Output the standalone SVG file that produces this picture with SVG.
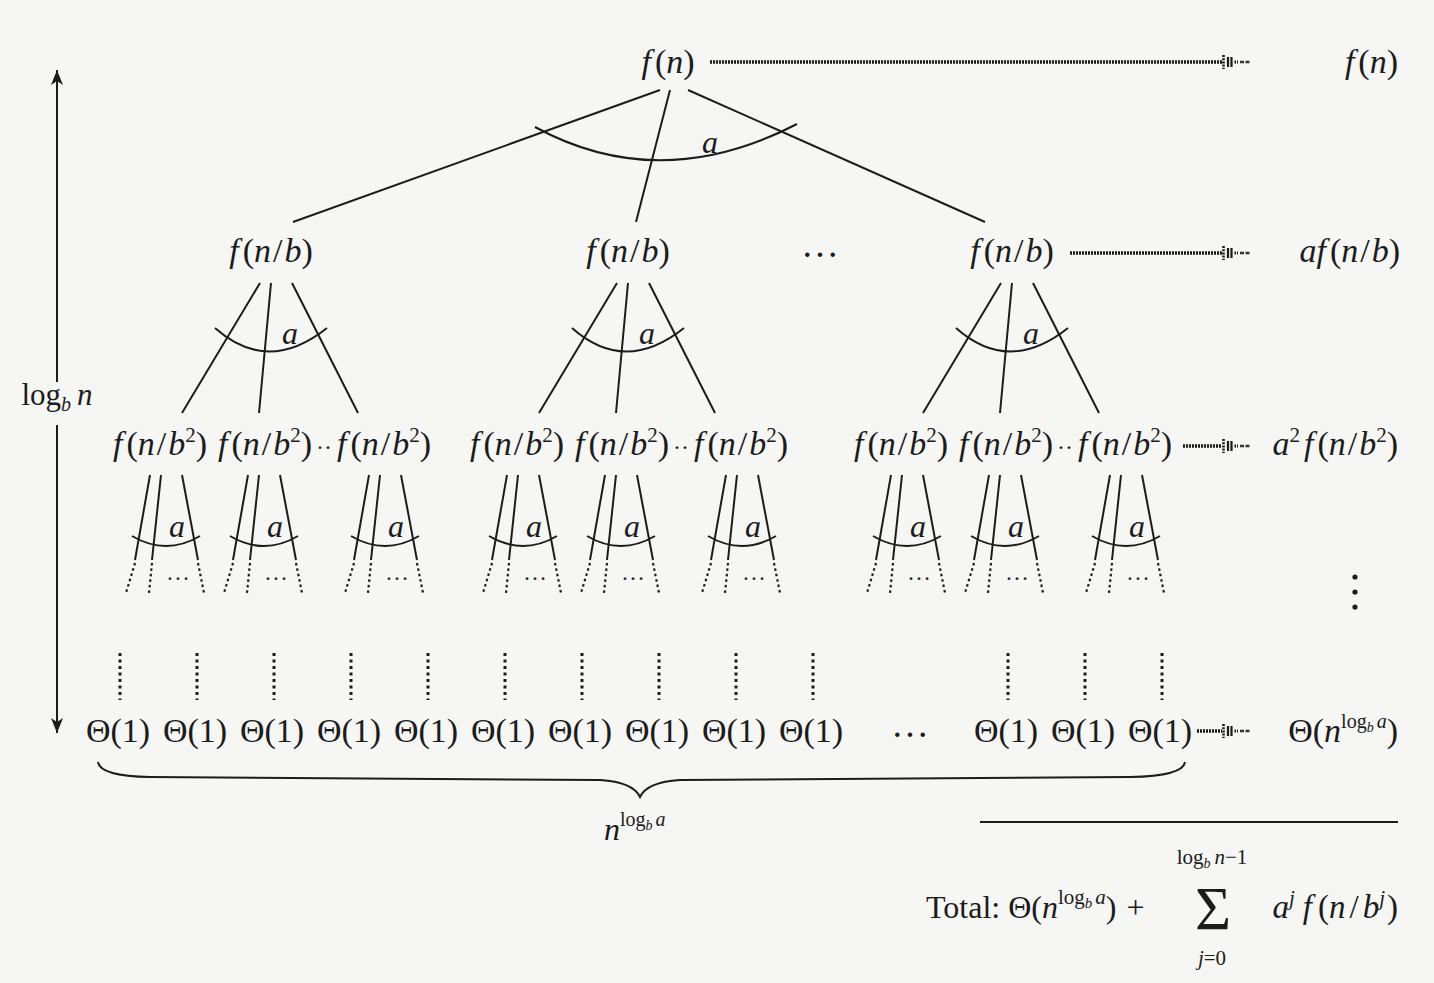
<svg xmlns="http://www.w3.org/2000/svg" xmlns:xlink="http://www.w3.org/1999/xlink" width="1434" height="983" viewBox="0 0 1434 983">
<style>
.t{font-family:"Liberation Serif","Times New Roman",serif;font-size:34px;fill:#1c1c1c}
.m{text-anchor:middle}
.r{text-anchor:end}
.i{font-style:italic}
.e{stroke:#1c1c1c;stroke-width:2;fill:none}
.d{stroke:#1c1c1c;stroke-width:2.2;stroke-dasharray:2.5 3;fill:none}
.v{stroke:#1c1c1c;stroke-width:3;stroke-dasharray:3 3.5;fill:none}
.dot{stroke:#1a1a1a;stroke-width:3.5;stroke-dasharray:2 1;fill:none}
.sm{font-size:24px}
.sa{font-size:32px}
</style>
<defs>
<marker id="da" viewBox="0 -9 30 18" refX="0" refY="0" markerWidth="30" markerHeight="18" markerUnits="userSpaceOnUse" orient="auto" overflow="visible">
<path d="M1.5,-7V7" stroke="#1a1a1a" stroke-width="2.6" stroke-dasharray="2 1.2" fill="none"/>
<path d="M6,-5V5M9.5,-5V5" stroke="#1a1a1a" stroke-width="2.2" fill="none"/>
<path d="M12.5,0H16" stroke="#1a1a1a" stroke-width="3" stroke-dasharray="1.5 1" fill="none"/>
<path d="M18,0H28" stroke="#333" stroke-width="2.4" stroke-dasharray="4 1.5" fill="none"/>
</marker>
<marker id="ah" viewBox="-16 -7 17 14" refX="0" refY="0" markerWidth="17" markerHeight="14" markerUnits="userSpaceOnUse" orient="auto">
<path d="M0,0L-15,-6L-11,0L-15,6Z" fill="#1c1c1c"/>
</marker>
<g id="s1">
<path class="e" d="M-11,0L-89,130M0,0L-12,130M21,0L87,130"/>
<path class="e" d="M-56,45Q-3,92 56,45"/>
<text class="t i m sa" x="19" y="61">a</text>
</g>
<g id="s2">
<path class="e" d="M0,0L-15,85M11,0L2,85M32,0L48,85"/>
<path class="d" d="M-15,88L-24,118M2,88L-1,118M48,88L54,118"/>
<path class="e" d="M-18,61Q16,81 50,61"/>
<text class="t i m sa" x="27" y="62">a</text>
<text class="t m sm" x="28" y="105">…</text>
</g>
<g id="f2">
<text class="t m"><tspan class="i">f</tspan><tspan dx="4">(</tspan><tspan class="i">n</tspan><tspan dx="2">/</tspan><tspan class="i" dx="2">b</tspan><tspan style="font-size:21px" dy="-13">2</tspan><tspan dy="13">)</tspan></text>
</g>
<g id="fb">
<text class="t m"><tspan class="i">f</tspan><tspan dx="4">(</tspan><tspan class="i">n</tspan><tspan dx="2">/</tspan><tspan class="i" dx="2">b</tspan>)</text>
</g>
<g id="th">
<text class="t m">Θ(1)</text>
</g>
</defs>
<rect x="0" y="0" width="1434" height="983" fill="#f6f6f4"/>

<g id="connectors">
<path class="e" d="M660,90L293,222M670,90L636,222M688,90L985,222"/>
<path class="e" d="M535,127Q660,195 797,124"/>
<text class="t i m sa" x="710" y="153">a</text>
<use xlink:href="#s1" x="271" y="283"/>
<use xlink:href="#s1" x="628" y="283"/>
<use xlink:href="#s1" x="1012" y="283"/>
<use xlink:href="#s2" x="150" y="475"/>
<use xlink:href="#s2" x="248" y="475"/>
<use xlink:href="#s2" x="369" y="475"/>
<use xlink:href="#s2" x="507" y="475"/>
<use xlink:href="#s2" x="605" y="475"/>
<use xlink:href="#s2" x="726" y="475"/>
<use xlink:href="#s2" x="891" y="475"/>
<use xlink:href="#s2" x="989" y="475"/>
<use xlink:href="#s2" x="1110" y="475"/>
<path class="v" d="M120,653V700M197,653V700M274,653V700M351,653V700M428,653V700M505,653V700M582,653V700M659,653V700M736,653V700M813,653V700M1008,653V700M1085,653V700M1162,653V700"/>
<path class="dot" d="M710,62H1222" marker-end="url(#da)"/>
<path class="dot" d="M1070,253H1222" marker-end="url(#da)"/>
<path class="dot" d="M1183,446H1222" marker-end="url(#da)"/>
<path class="dot" d="M1197,731H1222" marker-end="url(#da)"/>
<path class="e" d="M57,382V70" marker-end="url(#ah)"/>
<path class="e" d="M57,425V733" marker-end="url(#ah)"/>
<path class="e" stroke-width="2.4" d="M98,762Q100,776 150,777L600,780Q633,782 640,797Q647,782 680,780L1130,777Q1183,776 1185,762"/>
<path class="e" d="M980,822H1398"/>
</g>

<g id="root"><text class="t m" x="668" y="73"><tspan class="i">f</tspan><tspan dx="4">(</tspan><tspan class="i">n</tspan>)</text></g>
<g id="n1a"><use xlink:href="#fb" x="271" y="262"/></g>
<g id="n1b"><use xlink:href="#fb" x="628" y="262"/></g>
<g id="n1dots"><text class="t m" x="820" y="257" style="font-size:38px">…</text></g>
<g id="n1c"><use xlink:href="#fb" x="1012" y="262"/></g>

<g id="n2a1"><use xlink:href="#f2" x="160" y="455"/></g>
<g id="n2a2"><use xlink:href="#f2" x="265" y="455"/></g>
<g id="n2adots"><text class="t m sm" x="324" y="455">··</text></g>
<g id="n2a3"><use xlink:href="#f2" x="384" y="455"/></g>
<g id="n2b1"><use xlink:href="#f2" x="517" y="455"/></g>
<g id="n2b2"><use xlink:href="#f2" x="622" y="455"/></g>
<g id="n2bdots"><text class="t m sm" x="681" y="455">··</text></g>
<g id="n2b3"><use xlink:href="#f2" x="741" y="455"/></g>
<g id="n2c1"><use xlink:href="#f2" x="901" y="455"/></g>
<g id="n2c2"><use xlink:href="#f2" x="1006" y="455"/></g>
<g id="n2cdots"><text class="t m sm" x="1065" y="455">··</text></g>
<g id="n2c3"><use xlink:href="#f2" x="1125" y="455"/></g>

<g id="leaves">
<use xlink:href="#th" x="118" y="742"/>
<use xlink:href="#th" x="195" y="742"/>
<use xlink:href="#th" x="272" y="742"/>
<use xlink:href="#th" x="349" y="742"/>
<use xlink:href="#th" x="426" y="742"/>
<use xlink:href="#th" x="503" y="742"/>
<use xlink:href="#th" x="580" y="742"/>
<use xlink:href="#th" x="657" y="742"/>
<use xlink:href="#th" x="734" y="742"/>
<use xlink:href="#th" x="811" y="742"/>
<text class="t m" x="910" y="737" style="font-size:38px">…</text>
<use xlink:href="#th" x="1006" y="742"/>
<use xlink:href="#th" x="1083" y="742"/>
<use xlink:href="#th" x="1160" y="742"/>
</g>

<g id="sum0"><text class="t r" x="1398" y="73"><tspan class="i">f</tspan><tspan dx="4">(</tspan><tspan class="i">n</tspan>)</text></g>
<g id="sum1"><text class="t r" x="1400" y="262"><tspan class="i">af</tspan><tspan dx="4">(</tspan><tspan class="i">n</tspan><tspan dx="2">/</tspan><tspan class="i" dx="2">b</tspan>)</text></g>
<g id="sum2"><text class="t r" x="1398" y="455"><tspan class="i">a</tspan><tspan style="font-size:21px" dy="-13">2</tspan><tspan class="i" dy="13" dx="4">f</tspan><tspan dx="4">(</tspan><tspan class="i">n</tspan><tspan dx="2">/</tspan><tspan class="i" dx="2">b</tspan><tspan style="font-size:21px" dy="-13">2</tspan><tspan dy="13">)</tspan></text></g>
<g id="vdots"><circle cx="1355" cy="577" r="2.6" fill="#1c1c1c"/><circle cx="1355" cy="592" r="2.6" fill="#1c1c1c"/><circle cx="1355" cy="607" r="2.6" fill="#1c1c1c"/></g>
<g id="sumleaf"><text class="t r" x="1398" y="742">Θ(<tspan class="i">n</tspan><tspan style="font-size:20px" dy="-14">log</tspan><tspan class="i" style="font-size:14px" dy="4">b</tspan><tspan class="i" style="font-size:20px" dy="-4" dx="3">a</tspan><tspan dy="14">)</tspan></text></g>

<g id="height"><text class="t m" x="57" y="405" style="font-size:31px">log<tspan class="i" style="font-size:20px" dy="6">b</tspan><tspan class="i" dy="-6" dx="6">n</tspan></text></g>

<g id="leafcount"><text class="t" x="604" y="840" style="font-size:32px"><tspan class="i">n</tspan><tspan style="font-size:20px" dy="-14">log</tspan><tspan class="i" style="font-size:14px" dy="4">b</tspan><tspan class="i" style="font-size:20px" dy="-4" dx="3">a</tspan></text></g>

<g id="total">
<text class="t" x="926" y="918" style="font-size:32px">Total: Θ(<tspan class="i">n</tspan><tspan style="font-size:21px" dy="-14">log</tspan><tspan class="i" style="font-size:15px" dy="4">b</tspan><tspan class="i" style="font-size:21px" dy="-4" dx="3">a</tspan><tspan dy="14">)</tspan><tspan dx="10">+</tspan></text>
<text class="t m" x="1213" y="929" style="font-size:62px">Σ</text>
<text class="t m" x="1212" y="864" style="font-size:21px">log<tspan class="i" style="font-size:14px" dy="4">b</tspan><tspan class="i" dy="-4" dx="4">n</tspan>−1</text>
<text class="t m" x="1212" y="965" style="font-size:21px"><tspan class="i">j</tspan>=0</text>
<text class="t r" x="1398" y="918" style="font-size:33px"><tspan class="i">a</tspan><tspan class="i" style="font-size:21px" dy="-13">j</tspan><tspan class="i" dy="13" dx="8">f</tspan><tspan dx="6">(</tspan><tspan class="i">n</tspan><tspan dx="4">/</tspan><tspan class="i" dx="4">b</tspan><tspan class="i" style="font-size:21px" dy="-13">j</tspan><tspan dy="13" dx="2">)</tspan></text>
</g>
</svg>
